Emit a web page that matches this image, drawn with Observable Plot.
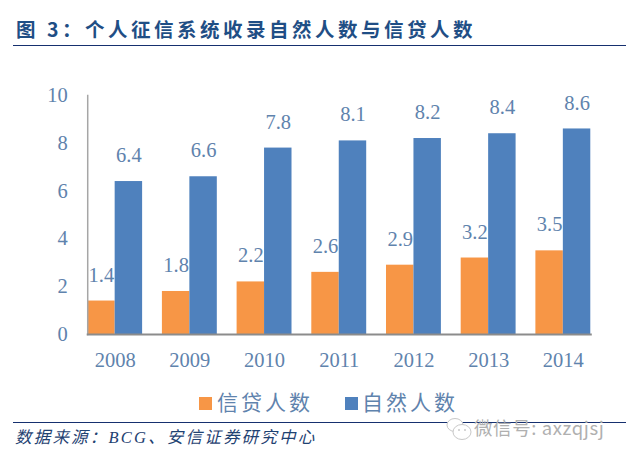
<!DOCTYPE html>
<html><head><meta charset="utf-8">
<script src="https://cdn.jsdelivr.net/npm/d3@7"></script>
<script src="https://cdn.jsdelivr.net/npm/@observablehq/plot@0.6"></script>
<style>
html,body{margin:0;padding:0;background:#fff;width:626px;height:458px;overflow:hidden}
#wrap{position:relative;width:626px;height:458px}
#title{position:absolute;left:16px;top:15px;font:bold 19.5px "Noto Sans CJK SC","Liberation Serif",serif;color:#1f4e85;letter-spacing:3.5px;white-space:nowrap;line-height:27px}
#rule1{position:absolute;left:13px;right:0;top:45px;height:1px;background:#16306f}
#chart{position:absolute;left:0;top:72px}
#legend{position:absolute;left:0;top:385px;width:626px;height:32px;font:21px "Noto Sans CJK SC",serif;color:#5f83ad;letter-spacing:3px}
#legend span{position:absolute;top:0;line-height:32px;white-space:nowrap}
#legend i{position:absolute;top:12px;width:13px;height:13px}
#rule2{position:absolute;left:13px;right:0;top:422px;height:1px;background:#16306f}
#source{position:absolute;left:15px;top:427px;font:italic 16.5px "Liberation Serif","Noto Sans CJK SC",serif;color:#1f4272;letter-spacing:2.2px;white-space:nowrap;line-height:22px}
#mark{position:absolute;left:474px;top:415px;font:18.5px "Noto Sans CJK SC",sans-serif;color:#b0b0b0;white-space:nowrap;line-height:24px;letter-spacing:.6px}
#icon{position:absolute;left:444px;top:415px}
</style></head><body>
<div id="wrap">
<div id="title">图 3：个人征信系统收录自然人数与信贷人数</div>
<div id="rule1"></div>
<div id="chart"></div>
<div id="legend"></div>
<div id="rule2"></div>
<div id="source">数据来源：BCG、安信证券研究中心</div>
<svg id="icon" width="30" height="30" viewBox="0 0 30 30"><g fill="#fff" stroke="#c8c8c8" stroke-width="1"><ellipse cx="11" cy="10" rx="8" ry="6.5"/><ellipse cx="18" cy="17" rx="9" ry="7.5"/></g><circle cx="15" cy="15" r="1" fill="#c8c8c8"/><circle cx="21" cy="15" r="1" fill="#c8c8c8"/></svg>
<div id="mark">微信号: axzqjsj</div>
</div>
<script>
const years = ["2008","2009","2010","2011","2012","2013","2014"];
const credit = [1.4,1.8,2.2,2.6,2.9,3.2,3.5];
const natural = [6.4,6.6,7.8,8.1,8.2,8.4,8.6];
const seriesNames = ["信贷人数","自然人数"];
const seriesColors = ["#f79646","#4f81bd"];
const yTicks = [0,2,4,6,8,10];
const rows = years.flatMap((year,i)=>[
  {year, series:seriesNames[0], value:credit[i]},
  {year, series:seriesNames[1], value:natural[i]}
]);
const textColor = "#5f83ad", font = "Liberation Serif";
const plot = Plot.plot({
  width:626, height:300,
  marginLeft:77.5, marginRight:26, marginTop:23, marginBottom:38,
  style:{background:"transparent", fontFamily:font, overflow:"visible"},
  fx:{domain:years, paddingInner:0.265, paddingOuter:0.13, round:false, label:null, axis:null},
  x:{domain:seriesNames, padding:0, round:false, axis:null, label:null},
  y:{domain:[0,10], ticks:yTicks, label:null, axis:null},
  color:{domain:seriesNames, range:seriesColors},
  marks:[
    Plot.barY(rows,{fx:"year",x:"series",y:"value",fill:"series"}),
    Plot.text(rows,{fx:"year",x:"series",y:"value",text:d=>d.value.toFixed(1),dy:-26,fill:textColor,fontSize:20.5}),
    Plot.frame({anchor:"left",stroke:"#a6a6a6",strokeWidth:1.5,facet:"super"}),
    Plot.frame({anchor:"bottom",stroke:"#8c8c8c",strokeWidth:2,facet:"super"}),
    Plot.axisY({ticks:yTicks,tickSize:0,tickPadding:20,fontSize:20.5,color:textColor,label:null,tickFormat:d=>String(d)}),
    Plot.axisFx({anchor:"bottom",tickSize:0,tickPadding:18,fontSize:20.5,color:textColor,label:null})
  ]
});
document.getElementById("chart").appendChild(plot);
const legend = document.getElementById("legend");
[[199,217],[345,362]].forEach(([sx,tx],i)=>{
  const sw=document.createElement("i");sw.style.left=sx+"px";sw.style.background=seriesColors[i];legend.appendChild(sw);
  const t=document.createElement("span");t.style.left=tx+"px";t.textContent=seriesNames[i];legend.appendChild(t);
});
</script>
</body></html>
